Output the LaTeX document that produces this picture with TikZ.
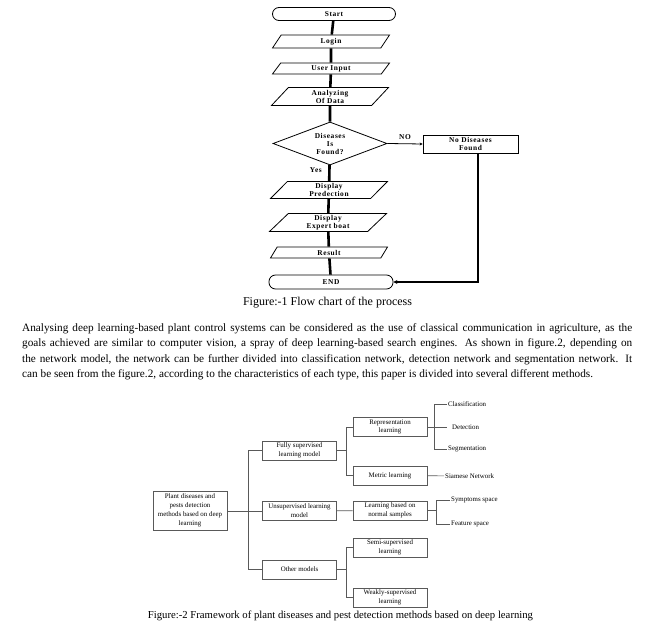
\documentclass[tikz,border=0pt]{standalone}
\usepackage{fontspec}
\setmainfont{Liberation Serif}
\usetikzlibrary{shapes.geometric,arrows.meta}

\newcommand{\chartfont}{\bfseries\fontsize{7.4}{8}\selectfont\addfontfeature{LetterSpace=8}}

\tikzset{
  term/.style={draw, line width=0.8pt, rounded corners=6.5pt, minimum width=123pt, minimum height=13pt, inner sep=0pt, font=\chartfont},
  io/.style={draw, line width=0.8pt, trapezium, trapezium left angle=38, trapezium right angle=142, trapezium stretches body, minimum width=117pt, inner sep=0pt, align=center, font=\chartfont},
  decide/.style={draw, line width=0.8pt, diamond, aspect=2.65, minimum width=114pt, minimum height=43pt, inner sep=0pt, align=center, font=\chartfont},
  flow/.style={line width=2.6pt},
  box/.style={draw=black!65, line width=0.6pt, minimum width=74pt, minimum height=19pt, inner sep=1pt, align=center, font=\fontsize{6.9}{8.8}\selectfont},
  leaf/.style={inner sep=1pt, font=\fontsize{6.9}{8}\selectfont},
  link/.style={draw=black!65, line width=0.6pt},
  body/.style={anchor=base west, inner sep=0pt, font=\fontsize{11.25}{15}\selectfont},
  caption/.style={anchor=base, inner sep=0pt}
}

\begin{document}
\begin{tikzpicture}[x=1pt, y=-1pt]
    \useasboundingbox (0,0) rectangle (656,639);

    % Flow chart
    \node[term] (start) at (334,14) {Start};
    \node[io, minimum height=13pt] (login) at (331,41.5) {Login};
    \node[io, minimum height=11pt] (input) at (331,68.5) {User Input};
    \node[io, minimum height=18pt] (data) at (330,96.5) {Analyzing\\Of Data};
    \node[decide] (found) at (330,143.5) {Diseases\\Is\\Found?};
    \node[draw, line width=0.8pt, minimum width=95pt, minimum height=18pt, inner sep=0pt, align=center, font=\chartfont] (nodis) at (470.5,144) {No Diseases\\Found};
    \node[io, minimum height=17pt] (pred) at (329,190) {Display\\Predection};
    \node[io, minimum height=18pt] (expert) at (328,222.5) {Display\\Expert boat};
    \node[io, minimum height=11pt] (result) at (329,252.5) {Result};
    \node[term, minimum width=124pt, minimum height=14pt] (end) at (331,282) {END};

    \draw[flow] (start) -- (login);
    \draw[flow] (login) -- (input);
    \draw[flow] (input) -- (data);
    \draw[flow] (data) -- (found);
    \draw[flow] (found) -- node[pos=0.3, left=3pt, font=\chartfont] {Yes} (pred);
    \draw[flow] (pred) -- (expert);
    \draw[flow] (expert) -- (result);
    \draw[flow] (result) -- (end);
    \draw[line width=0.8pt, -{Stealth[length=3pt, width=3pt]}] (found.east) -- node[above=0.5pt, font=\chartfont] {NO} (nodis.west);
    \coordinate (back) at (478,282);
    \draw[line width=2pt, -{Stealth[length=4pt, width=4pt]}] (nodis.south -| back) -- (back) -- (end.east);

    \node[caption, font=\fontsize{12}{14}\selectfont] (cap1) at (327.5,305) {Figure:-1 Flow chart of the process};

    % Paragraph
    \node[body] (l1) at (22,331) {\makebox[610pt][s]{Analysing deep learning-based plant control systems can be considered as the use of classical communication in agriculture, as the}};
    \node[body] (l2) at (22,346.5) {\makebox[610pt][s]{goals achieved are similar to computer vision, a spray of deep learning-based search engines. As shown in figure.2, depending on}};
    \node[body] (l3) at (22,362) {\makebox[610pt][s]{the network model, the network can be further divided into classification network, detection network and segmentation network. It}};
    \node[body] (l4) at (22,377.5) {can be seen from the figure.2, according to the characteristics of each type, this paper is divided into several different methods.};

    % Framework
    \node[box, minimum height=39pt] (root) at (190,510.5) {Plant diseases and\\pests detection\\methods based on deep\\learning};
    \node[box] (full) at (299.5,450.5) {Fully supervised\\learning model};
    \node[box] (unsup) at (299.5,511) {Unsupervised learning\\model};
    \node[box] (other) at (299.5,569.5) {Other models};
    \node[box] (repr) at (390,427) {Representation\\learning};
    \node[box] (metric) at (390,475.5) {Metric learning};
    \node[box] (normal) at (390,510.5) {Learning based on\\normal samples};
    \node[box] (semi) at (390,547.5) {Semi-supervised\\learning};
    \node[box] (weak) at (390,597.5) {Weakly-supervised\\learning};
    \node[leaf, anchor=west] (cls) at (447,404) {Classification};
    \node[leaf, anchor=west] (det) at (451,427) {Detection};
    \node[leaf, anchor=west] (seg) at (447,449) {Segmentation};
    \node[leaf, anchor=west] (siam) at (444,476) {Siamese Network};
    \node[leaf, anchor=west] (symp) at (450,500) {Symptoms space};
    \node[leaf, anchor=west] (feat) at (450,524) {Feature space};

    \coordinate (j0) at (248,511);
    \coordinate (j1) at (346,450.5);
    \coordinate (j2) at (346,569.5);
    \coordinate (j3) at (434,427);
    \coordinate (j4) at (436,510.5);

    \draw[link] (root.east |- j0) -- (j0);
    \draw[link] (j0) |- (full.west);
    \draw[link] (j0) -- (unsup.west);
    \draw[link] (j0) |- (other.west);
    \draw[link] (full.east |- j1) -- (j1);
    \draw[link] (j1) |- (repr.west);
    \draw[link] (j1) |- (metric.west);
    \draw[link] (unsup) -- (normal);
    \draw[link] (other.east |- j2) -- (j2);
    \draw[link] (j2) |- (semi.west);
    \draw[link] (j2) |- (weak.west);
    \draw[link] (repr.east |- j3) -- ([xshift=-4pt]det.west);
    \draw[link] (j3) |- (cls.west);
    \draw[link] (j3) |- (seg.west);
    \draw[link] (metric) -- (siam);
    \draw[link] (normal.east |- j4) -- (j4);
    \draw[link] (j4) |- (symp.west);
    \draw[link] (j4) |- (feat.west);

    \node[caption, font=\fontsize{10.7}{13}\selectfont] (cap2) at (340.5,618) {Figure:-2 Framework of plant diseases and pest detection methods based on deep learning};
\end{tikzpicture}
\end{document}
